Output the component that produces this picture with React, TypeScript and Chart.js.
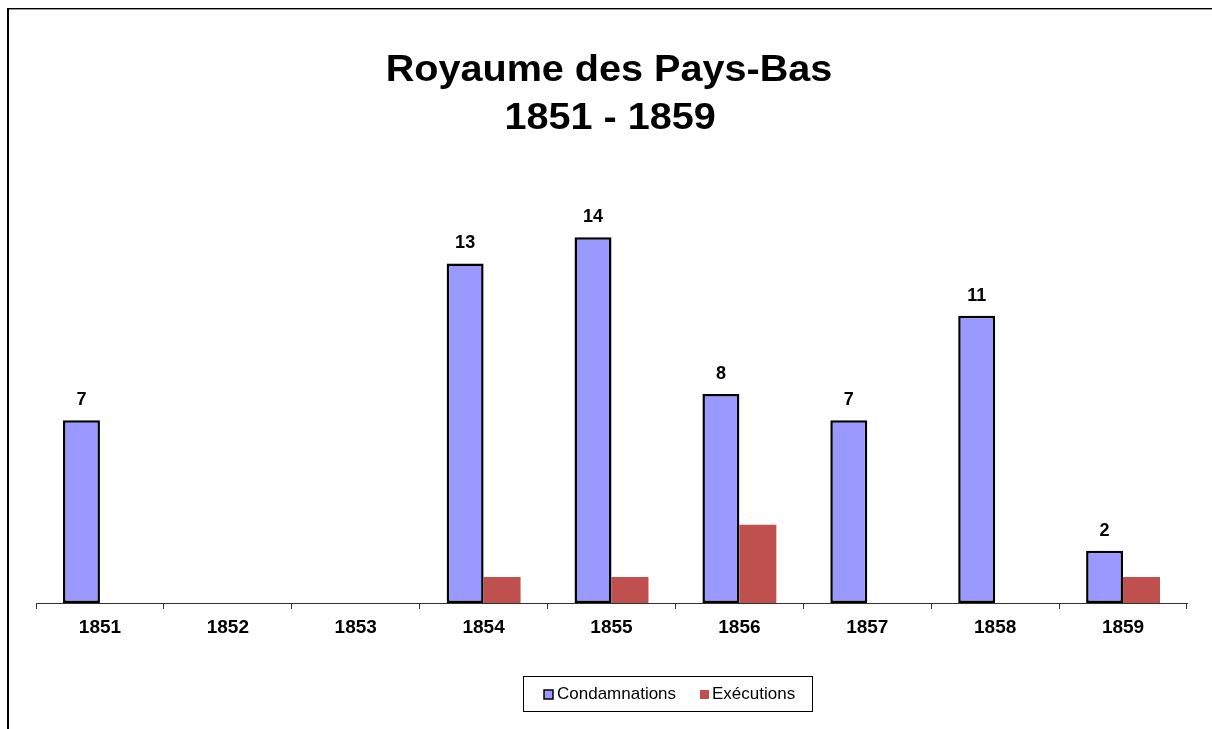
import { useEffect, useRef } from "react";
import { Chart, registerables } from "chart.js";

Chart.register(...registerables);

const titleLines = ["Royaume des Pays-Bas", "1851 - 1859"];
const years = ["1851", "1852", "1853", "1854", "1855", "1856", "1857", "1858", "1859"];
const condamnations: (number | null)[] = [7, null, null, 13, 14, 8, 7, 11, 2];
const executions: (number | null)[] = [null, null, null, 1, 1, 3, null, null, 1];
const seriesNames = ["Condamnations", "Exécutions"];
const seriesColors = ["#9999FF", "#C0504D"];
const yMax = 16;

const FONT = "'Liberation Sans', Arial, sans-serif";

const decor = {
  id: "decor",
  beforeDraw(chart: any) {
    const ctx = chart.ctx;
    ctx.save();
    ctx.fillStyle = "#ffffff";
    ctx.fillRect(0, 0, chart.width, chart.height);
    // outer frame (extends beyond right/bottom edges)
    ctx.fillStyle = "#000000";
    ctx.fillRect(7, 8, 2, chart.height);
    ctx.fillRect(7, 8, chart.width, 1);
    ctx.fillStyle = "#9a9a9a";
    ctx.fillRect(9, 9, chart.width, 1);
    ctx.restore();
  },
  afterDatasetsDraw(chart: any) {
    const ctx = chart.ctx;
    const meta = chart.getDatasetMeta(0);
    ctx.save();
    ctx.fillStyle = "#000";
    ctx.font = `bold 18px ${FONT}`;
    ctx.textAlign = "center";
    ctx.textBaseline = "alphabetic";
    meta.data.forEach((el: any, i: number) => {
      const v = condamnations[i];
      if (v === null || v === undefined) return;
      ctx.fillText(String(v), el.x, el.y - 15);
    });
    ctx.restore();
  },
  afterDraw(chart: any) {
    const ctx = chart.ctx;
    ctx.save();
    // title (slightly widened to match the reference's wide bold rendering)
    ctx.fillStyle = "#000";
    ctx.textAlign = "center";
    ctx.textBaseline = "alphabetic";
    ctx.font = `bold 37px ${FONT}`;
    ctx.save();
    ctx.translate(609, 0);
    ctx.scale(1.07, 1);
    ctx.fillText(titleLines[0], 0, 81);
    ctx.fillText(titleLines[1], 1, 129);
    ctx.restore();

    // legend
    ctx.strokeStyle = "#000";
    ctx.lineWidth = 1;
    ctx.strokeRect(523.5, 676.5, 289, 35);
    ctx.font = `17px ${FONT}`;
    ctx.textAlign = "left";
    ctx.fillStyle = seriesColors[0];
    ctx.fillRect(544, 690, 9, 9);
    ctx.lineWidth = 1.5;
    ctx.strokeRect(544, 690, 9, 9);
    ctx.fillStyle = "#000";
    ctx.fillText(seriesNames[0], 557, 699);
    ctx.fillStyle = seriesColors[1];
    ctx.fillRect(700, 690, 9, 9);
    ctx.fillStyle = "#000";
    ctx.fillText(seriesNames[1], 712, 699);
    ctx.restore();
  },
};

export default function App() {
  const ref = useRef<HTMLCanvasElement | null>(null);

  useEffect(() => {
    if (!ref.current) return;
    const chart = new Chart(ref.current, {
      type: "bar",
      data: {
        labels: years,
        datasets: [
          {
            label: seriesNames[0],
            data: condamnations,
            backgroundColor: seriesColors[0],
            borderColor: "#000000",
            borderWidth: 2.5,
            borderSkipped: false,
            categoryPercentage: 0.578,
            barPercentage: 1,
          },
          {
            label: seriesNames[1],
            data: executions,
            backgroundColor: seriesColors[1],
            borderWidth: 0,
            categoryPercentage: 0.578,
            barPercentage: 1,
          },
        ],
      },
      options: {
        responsive: false,
        animation: false,
        devicePixelRatio: 1,
        layout: { padding: { left: 36, right: 25, top: 185, bottom: 0 } },
        plugins: {
          legend: { display: false },
          title: { display: false },
          tooltip: { enabled: false },
        },
        scales: {
          x: {
            grid: {
              drawOnChartArea: false,
              drawTicks: true,
              tickLength: 6,
              color: "#333333",
              offset: true,
            },
            border: { color: "#333333", width: 1 },
            ticks: {
              color: "#000000",
              font: { family: FONT, size: 19, weight: "bold" },
              padding: 7,
              maxRotation: 0,
              autoSkip: false,
            },
            afterFit: (s: any) => {
              s.height = 126;
            },
          },
          y: { display: false, min: 0, max: yMax },
        },
      },
      plugins: [decor],
    } as any);
    return () => chart.destroy();
  }, []);

  return (
    <canvas
      ref={ref}
      width={1212}
      height={729}
      style={{ position: "fixed", left: 0, top: 0, display: "block" }}
    />
  );
}
